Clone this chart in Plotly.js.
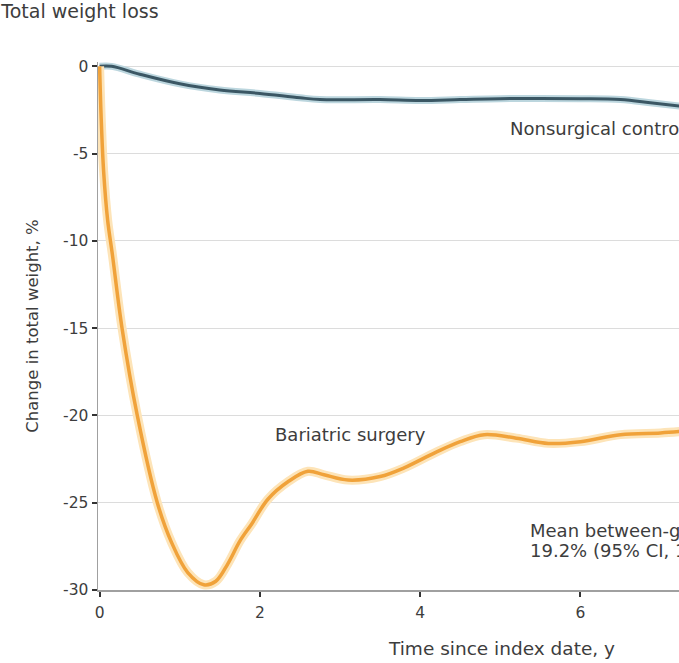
<!DOCTYPE html>
<html>
<head>
<meta charset="utf-8">
<script src="https://cdn.plot.ly/plotly-3.0.1.min.js"></script>
<style>html,body{margin:0;padding:0;overflow:hidden;background:#fff}#chart{width:679px;height:663px}</style>
</head>
<body>
<div id="chart"></div>
<script>
// Years since index date and % change in total weight
const surgeryX = [0, 0.02, 0.05, 0.1, 0.16, 0.28, 0.47, 0.72, 0.9, 1.1, 1.3, 1.45, 1.6, 1.75, 1.9, 2.1, 2.35, 2.6, 2.8, 3.1, 3.5, 3.8, 4.2, 4.5, 4.8, 5.2, 5.6, 6.0, 6.5, 7.0, 7.3];
const surgeryY = [0, -3, -6, -8.8, -10.8, -15, -20, -25, -27.3, -29, -29.7, -29.5, -28.5, -27.2, -26.2, -24.8, -23.8, -23.2, -23.4, -23.7, -23.5, -23.0, -22.1, -21.5, -21.1, -21.3, -21.6, -21.5, -21.1, -21.0, -20.9];
const controlX = [0, 0.15, 0.5, 1.0, 1.5, 2.0, 2.5, 2.75, 3.5, 4.0, 4.5, 5.0, 6.0, 6.5, 6.9, 7.3];
const controlY = [0, 0, -0.45, -1.0, -1.35, -1.55, -1.8, -1.9, -1.9, -1.95, -1.9, -1.85, -1.85, -1.9, -2.1, -2.3];
const yTickVals = [0, -5, -10, -15, -20, -25, -30];
const yTickText = ["0", "-5", "-10", "-15", "-20", "-25", "-30"];
const xTickVals = [0, 2, 4, 6];
const xTickText = ["0", "2", "4", "6"];

const FONT = "DejaVu Sans, Noto Sans, sans-serif";
const TXT = "#3d3d3d";

const traces = [
  {x: controlX, y: controlY, mode: "lines", line: {color: "#bcd6de", width: 7, shape: "spline"}, hoverinfo: "skip", showlegend: false},
  {x: controlX, y: controlY, mode: "lines", line: {color: "#3b5764", width: 3, shape: "spline"}, name: "Nonsurgical control", showlegend: false},
  {x: surgeryX, y: surgeryY, mode: "lines", line: {color: "#fde4b8", width: 9, shape: "spline"}, hoverinfo: "skip", showlegend: false},
  {x: surgeryX, y: surgeryY, mode: "lines", line: {color: "#f0a23a", width: 3.5, shape: "spline"}, name: "Bariatric surgery", showlegend: false}
];

const layout = {
  width: 679, height: 663,
  margin: {l: 98, r: 0, t: 62, b: 73},
  paper_bgcolor: "#fff", plot_bgcolor: "#fff",
  font: {family: FONT, size: 14, color: TXT},
  title: {text: "Total weight loss", xref: "container", yref: "container", x: 0.002, xanchor: "left", y: 0.993, yanchor: "top", font: {family: FONT, size: 19, color: TXT}},
  xaxis: {
    range: [-0.02, 7.23], tickvals: xTickVals, ticktext: xTickText,
    showgrid: false, zeroline: false, showline: true, linecolor: "#a0a0a0", linewidth: 1.5,
    ticks: "outside", ticklen: 5, tickwidth: 2, tickcolor: "#333",
    ticklabelstandoff: 3,
    tickfont: {family: FONT, size: 15.5, color: TXT}
  },
  yaxis: {
    range: [-30, 0.25], tickvals: yTickVals, ticktext: yTickText,
    showgrid: true, gridcolor: "#dcdcdc", gridwidth: 1, zeroline: false,
    showline: true, linecolor: "#a0a0a0", linewidth: 1.5,
    ticks: "outside", ticklen: 5, tickwidth: 2, tickcolor: "#333",
    tickfont: {family: FONT, size: 15.5, color: TXT},
    title: {text: "Change in total weight, %", standoff: 20, font: {family: FONT, size: 16.5, color: TXT}}
  },
  annotations: [
    {x: 5.09, y: -3.55, xref: "x", yref: "y", text: "Nonsurgical control", showarrow: false, xanchor: "left", yanchor: "middle", font: {family: FONT, size: 18, color: TXT}},
    {x: 2.16, y: -21.1, xref: "x", yref: "y", text: "Bariatric surgery", showarrow: false, xanchor: "left", yanchor: "middle", font: {family: FONT, size: 18, color: TXT}},
    {x: 5.34, y: -26.6, xref: "x", yref: "y", text: "Mean between-group difference,", showarrow: false, xanchor: "left", yanchor: "middle", font: {family: FONT, size: 18, color: TXT}},
    {x: 5.34, y: -27.75, xref: "x", yref: "y", text: "19.2% (95% CI, 18.9%-19.5%)", showarrow: false, xanchor: "left", yanchor: "middle", font: {family: FONT, size: 18, color: TXT}},
    {x: 5.02, y: 0, xref: "x", yref: "paper", yshift: -58, text: "Time since index date, y", showarrow: false, xanchor: "center", yanchor: "middle", font: {family: FONT, size: 18.5, color: TXT}}
  ]
};

Plotly.newPlot("chart", traces, layout, {displayModeBar: false, staticPlot: true});
</script>
</body>
</html>
